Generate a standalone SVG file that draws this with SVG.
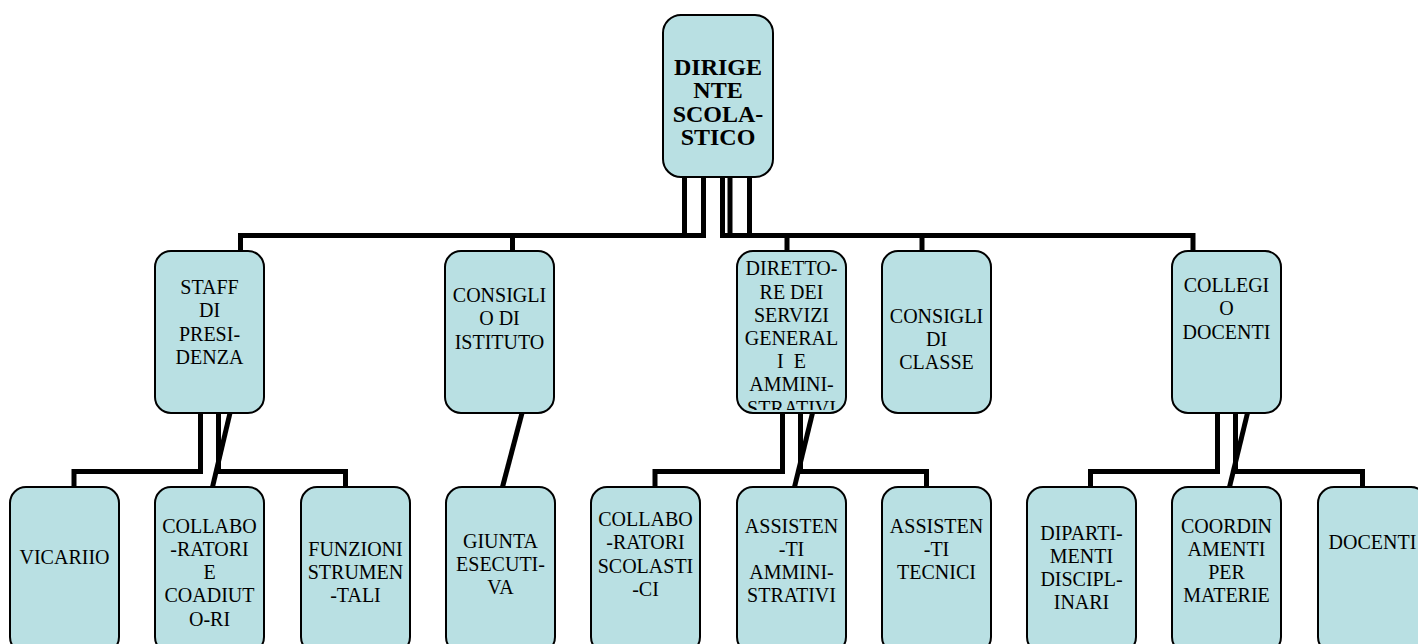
<svg xmlns="http://www.w3.org/2000/svg" width="1418" height="644" viewBox="0 0 1418 644">
<style>
.box{fill:#B9E0E3;stroke:#000;stroke-width:2}
.t{font-family:"Liberation Serif","Times New Roman",serif;font-size:20px;fill:#000;text-anchor:middle}
.tb{font-family:"Liberation Serif","Times New Roman",serif;font-size:24px;font-weight:bold;fill:#000;text-anchor:middle}
.c{fill:none;stroke:#000;stroke-width:5;stroke-linejoin:miter;stroke-linecap:butt}
</style>
<defs>
<clipPath id="clipDir"><rect x="737" y="251" width="109" height="159"/></clipPath>
</defs>
<rect width="1418" height="644" fill="#fff"/>
<g id="connectors">
<path class="c" d="M684.5,177 V235.5 H512.5 V251"/>
<path class="c" d="M703.5,177 V235.5 H240.5 V251"/>
<path class="c" d="M722.5,177 V235.5 H787 V251"/>
<path class="c" d="M730,177 V235.5 H922 V251"/>
<path class="c" d="M749.5,177 V235.5 H1193 V251"/>
<path class="c" d="M200.5,413 V471.5 H74 V487"/>
<path class="c" d="M218.5,413 V471.5 H345.5 V487"/>
<path class="c" d="M230,413 L212.5,487"/>
<path class="c" d="M522,413 L502.5,487"/>
<path class="c" d="M782.5,413 V471.5 H655 V487"/>
<path class="c" d="M800.5,413 V471.5 H926.5 V487"/>
<path class="c" d="M812.5,413 L794.5,487"/>
<path class="c" d="M1217.5,413 V471.5 H1090.5 V487"/>
<path class="c" d="M1235.5,413 V471.5 H1362.5 V487"/>
<path class="c" d="M1247.5,413 L1229.5,487"/>
</g>
<g id="dirigente">
<rect class="box" x="663" y="15" width="110" height="162" rx="18"/>
<text class="tb" x="718" y="75">DIRIGE</text>
<text class="tb" x="718" y="98.3">NTE</text>
<text class="tb" x="718" y="121.6">SCOLA-</text>
<text class="tb" x="718" y="145">STICO</text>
</g>
<g id="staff">
<rect class="box" x="155" y="251" width="109" height="162" rx="16"/>
<text class="t" x="209.5" y="294">STAFF</text>
<text class="t" x="209.5" y="317.3">DI</text>
<text class="t" x="209.5" y="340.6">PRESI-</text>
<text class="t" x="209.5" y="364">DENZA</text>
</g>
<g id="consiglio-istituto">
<rect class="box" x="445" y="251" width="109" height="162" rx="16"/>
<text class="t" x="499.5" y="302">CONSIGLI</text>
<text class="t" x="499.5" y="325.3">O DI</text>
<text class="t" x="499.5" y="348.6">ISTITUTO</text>
</g>
<g id="direttore">
<rect class="box" x="737" y="251" width="109" height="162" rx="16"/>
<g clip-path="url(#clipDir)">
<text class="t" x="791.5" y="275.3">DIRETTO-</text>
<text class="t" x="791.5" y="298.5">RE DEI</text>
<text class="t" x="791.5" y="321.7">SERVIZI</text>
<text class="t" x="791.5" y="344.9">GENERAL</text>
<text class="t" x="791.5" y="368.1" style="white-space:pre">I  E</text>
<text class="t" x="791.5" y="391.3">AMMINI-</text>
<text class="t" x="791.5" y="414.5">STRATIVI</text>
</g>
</g>
<g id="consigli-classe">
<rect class="box" x="882" y="251" width="109" height="162" rx="16"/>
<text class="t" x="936.5" y="322.5">CONSIGLI</text>
<text class="t" x="936.5" y="345.8">DI</text>
<text class="t" x="936.5" y="369.1">CLASSE</text>
</g>
<g id="collegio">
<rect class="box" x="1172" y="251" width="109" height="162" rx="16"/>
<text class="t" x="1226.5" y="292">COLLEGI</text>
<text class="t" x="1226.5" y="315.3">O</text>
<text class="t" x="1226.5" y="338.6">DOCENTI</text>
</g>
<g id="vicario">
<rect class="box" x="10" y="487" width="109" height="166" rx="16"/>
<text class="t" x="64.5" y="564">VICARIIO</text>
</g>
<g id="collaboratori">
<rect class="box" x="155" y="487" width="109" height="166" rx="16"/>
<text class="t" x="209.5" y="532.5">COLLABO</text>
<text class="t" x="209.5" y="555.8">-RATORI</text>
<text class="t" x="209.5" y="579.1">E</text>
<text class="t" x="209.5" y="602.4">COADIUT</text>
<text class="t" x="209.5" y="625.7">O-RI</text>
</g>
<g id="funzioni">
<rect class="box" x="301" y="487" width="109" height="166" rx="16"/>
<text class="t" x="355.5" y="555.8">FUNZIONI</text>
<text class="t" x="355.5" y="579.1">STRUMEN</text>
<text class="t" x="355.5" y="602.4">-TALI</text>
</g>
<g id="giunta">
<rect class="box" x="446" y="487" width="109" height="166" rx="16"/>
<text class="t" x="500.5" y="547.5">GIUNTA</text>
<text class="t" x="500.5" y="570.8">ESECUTI-</text>
<text class="t" x="500.5" y="594.1">VA</text>
</g>
<g id="collaboratori-scolastici">
<rect class="box" x="591" y="487" width="109" height="166" rx="16"/>
<text class="t" x="645.5" y="526">COLLABO</text>
<text class="t" x="645.5" y="549.3">-RATORI</text>
<text class="t" x="645.5" y="572.6">SCOLASTI</text>
<text class="t" x="645.5" y="595.9">-CI</text>
</g>
<g id="assistenti-amministrativi">
<rect class="box" x="737" y="487" width="109" height="166" rx="16"/>
<text class="t" x="791.5" y="532.5">ASSISTEN</text>
<text class="t" x="791.5" y="555.8">-TI</text>
<text class="t" x="791.5" y="579.1">AMMINI-</text>
<text class="t" x="791.5" y="602.4">STRATIVI</text>
</g>
<g id="assistenti-tecnici">
<rect class="box" x="882" y="487" width="109" height="166" rx="16"/>
<text class="t" x="936.5" y="532.5">ASSISTEN</text>
<text class="t" x="936.5" y="555.8">-TI</text>
<text class="t" x="936.5" y="579.1">TECNICI</text>
</g>
<g id="dipartimenti">
<rect class="box" x="1027" y="487" width="109" height="166" rx="16"/>
<text class="t" x="1081.5" y="540">DIPARTI-</text>
<text class="t" x="1081.5" y="563">MENTI</text>
<text class="t" x="1081.5" y="586">DISCIPL-</text>
<text class="t" x="1081.5" y="609">INARI</text>
</g>
<g id="coordinamenti">
<rect class="box" x="1172" y="487" width="109" height="166" rx="16"/>
<text class="t" x="1226.5" y="532.5">COORDIN</text>
<text class="t" x="1226.5" y="555.8">AMENTI</text>
<text class="t" x="1226.5" y="579.1">PER</text>
<text class="t" x="1226.5" y="602.4">MATERIE</text>
</g>
<g id="docenti">
<rect class="box" x="1318" y="487" width="109" height="166" rx="16"/>
<text class="t" x="1372.5" y="548.5">DOCENTI</text>
</g>
</svg>
